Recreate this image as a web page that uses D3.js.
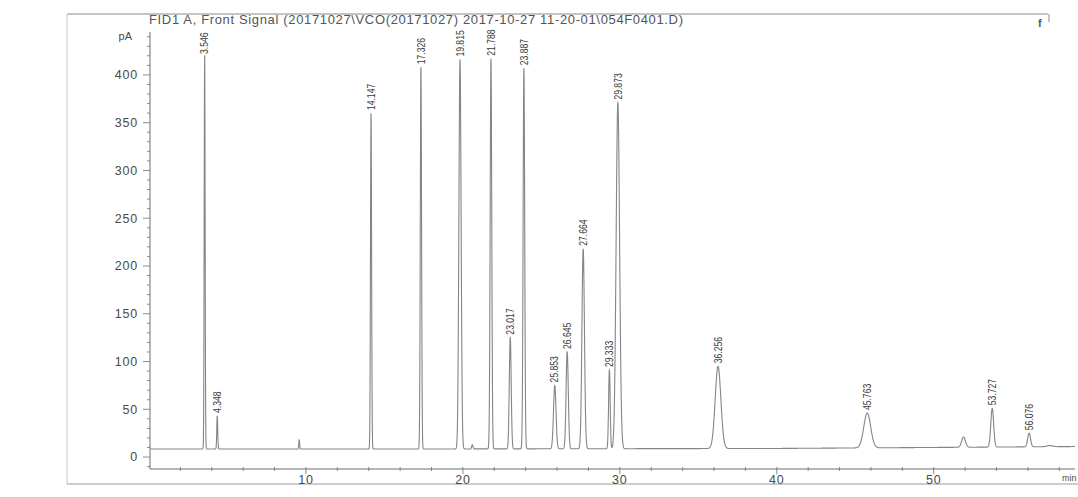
<!DOCTYPE html>
<html>
<head>
<meta charset="utf-8">
<script src="https://cdn.jsdelivr.net/npm/d3@7/dist/d3.min.js"></script>
<style>
  html, body { margin: 0; padding: 0; background: #fff; }
  svg { display: block; }
</style>
</head>
<body>
<svg id="chart" width="1078" height="497"></svg>
<script>
// ---------------- data ----------------
const titleText = "FID1 A, Front Signal (20171027\\VCO(20171027) 2017-10-27 11-20-01\\054F0401.D)";
const yUnit = "pA";
const xUnit = "min";
const yTickValues = [0, 50, 100, 150, 200, 250, 300, 350, 400];
const xTickValues = [10, 20, 30, 40, 50];

// retention times (min), apex signal (pA), peak width (sigma, min), label
const peakTimes   = [3.546, 4.348, 9.57, 14.147, 17.326, 19.815, 20.6, 21.788, 23.017, 23.887, 25.853, 26.645, 27.664, 29.333, 29.873, 36.256, 45.763, 51.9, 53.727, 56.076, 57.4];
const peakHeights = [421,   43,    18,   360,    408,    416,    13,   417,    125,    407,    75,     110,    218,    91,     371,    95,     46,     21,   51,     25,     12];
const peakWidths  = [0.03,  0.03,  0.025,0.035,  0.04,   0.07,   0.04, 0.05,   0.06,   0.05,   0.08,   0.07,   0.08,   0.05,   0.11,   0.18,   0.22,   0.12, 0.09,   0.09,   0.2];
const peakLabels  = ["3.546","4.348",null,"14.147","17.326","19.815",null,"21.788","23.017","23.887","25.853","26.645","27.664","29.333","29.873","36.256","45.763",null,"53.727","56.076",null];

// baseline drift read at a few times
const baselineTimes  = [0, 20, 40, 59];
const baselineValues = [8.5, 8.5, 9, 11];

// ---------------- drawing ----------------
const svg = d3.select("#chart");
const x = d3.scaleLinear().domain([0, 59]).range([149, 1075]);
const y = d3.scaleLinear().domain([-12.5, 447]).range([469, 30]);
const baseline = d3.scaleLinear().domain(baselineTimes).range(baselineValues);

const axisColor = "#6f6f6f";
const textColor = "#4a4a4a";
const font = "Liberation Sans, Arial, sans-serif";

// page frame lines
svg.append("line").attr("x1", 67).attr("x2", 1048).attr("y1", 14).attr("y2", 14)
  .attr("stroke", "#8a8a8a").attr("stroke-width", 1);
svg.append("line").attr("x1", 67).attr("x2", 67).attr("y1", 14).attr("y2", 484)
  .attr("stroke", "#c8c8c8").attr("stroke-width", 1);
svg.append("line").attr("x1", 1049).attr("x2", 1049).attr("y1", 14).attr("y2", 22)
  .attr("stroke", "#8a8a8a").attr("stroke-width", 1);
svg.append("line").attr("x1", 67).attr("x2", 1078).attr("y1", 484).attr("y2", 484)
  .attr("stroke", "#9a9a9a").attr("stroke-width", 1);
svg.append("text").attr("x", 1038).attr("y", 27).text("f")
  .attr("font-family", font).attr("font-size", 11)
  .attr("font-weight", "bold").attr("fill", "#555");

// title
svg.append("text").attr("x", 149).attr("y", 24).text(titleText)
  .attr("font-family", font).attr("font-size", 13)
  .attr("textLength", 534).attr("lengthAdjust", "spacing")
  .attr("fill", "#555");

// y axis
const yAxis = svg.append("g");
yAxis.append("line").attr("x1", 150).attr("x2", 150).attr("y1", y(445)).attr("y2", y(-12.5))
  .attr("stroke", axisColor);
const yMinor = d3.range(-10, 441, 10);
yAxis.selectAll("line.minor").data(yMinor).enter().append("line")
  .attr("x1", d => yTickValues.includes(d) ? 143 : 147).attr("x2", 150)
  .attr("y1", d => y(d)).attr("y2", d => y(d)).attr("stroke", axisColor).attr("stroke-width", 0.8);
yAxis.selectAll("text.tl").data(yTickValues).enter().append("text")
  .attr("x", 138).attr("y", d => y(d)).attr("dy", "0.35em").attr("text-anchor", "end")
  .text(d => d).attr("font-family", font).attr("font-size", 12.5)
  .attr("letter-spacing", 0.8).attr("fill", textColor);
yAxis.append("text").attr("x", 132).attr("y", y(441)).attr("dy", "0.35em").attr("text-anchor", "end")
  .text(yUnit).attr("font-family", font).attr("font-size", 11)
  .attr("fill", textColor);

// x axis
const xAxis = svg.append("g");
xAxis.append("line").attr("x1", 150).attr("x2", 1075).attr("y1", 469).attr("y2", 469)
  .attr("stroke", axisColor);
const xMinor = d3.range(2, 59, 2);
xAxis.selectAll("line.minor").data(xMinor).enter().append("line")
  .attr("x1", d => x(d)).attr("x2", d => x(d))
  .attr("y1", 467).attr("y2", d => xTickValues.includes(d) ? 474 : 471)
  .attr("stroke", axisColor).attr("stroke-width", 0.8);
xAxis.selectAll("text.tl").data(xTickValues).enter().append("text")
  .attr("x", d => x(d)).attr("y", 480).attr("dy", "0.35em").attr("text-anchor", "middle")
  .text(d => d).attr("font-family", font).attr("font-size", 12.5)
  .attr("letter-spacing", 0.8).attr("fill", textColor);
xAxis.append("text").attr("x", 1062).attr("y", 478).attr("dy", "0.35em")
  .text(xUnit).attr("font-family", font).attr("font-size", 9)
  .attr("fill", textColor);

// trace
svg.append("clipPath").attr("id", "plotclip").append("rect")
  .attr("x", 150).attr("y", 30).attr("width", 930).attr("height", 440);

const ts = d3.range(0, 59.0001, 0.004);
const signal = t => {
  let v = baseline(t);
  peakTimes.forEach((pt, i) => {
    const dt = (t - pt) / peakWidths[i];
    if (Math.abs(dt) < 8) v += (peakHeights[i] - baseline(pt)) * Math.exp(-0.5 * dt * dt);
  });
  return v;
};
const line = d3.line().x(d => x(d)).y(d => y(signal(d)));
svg.append("path").attr("d", line(ts)).attr("fill", "none")
  .attr("stroke", "#858585").attr("stroke-width", 1.1).attr("clip-path", "url(#plotclip)");

// peak labels
const labelData = peakTimes.map((t, i) => ({t, h: peakHeights[i], label: peakLabels[i]})).filter(d => d.label);
svg.selectAll("text.peak").data(labelData).enter().append("text")
  .attr("transform", d => `translate(${x(d.t)},${Math.max(y(d.h) - 3, 54)}) rotate(-90) scale(0.82,1)`)
  .attr("dy", "0.35em").attr("text-anchor", "start")
  .text(d => d.label)
  .attr("font-family", font)
  .attr("font-size", 10.5).attr("fill", "#3a3a3a");
</script>
</body>
</html>
